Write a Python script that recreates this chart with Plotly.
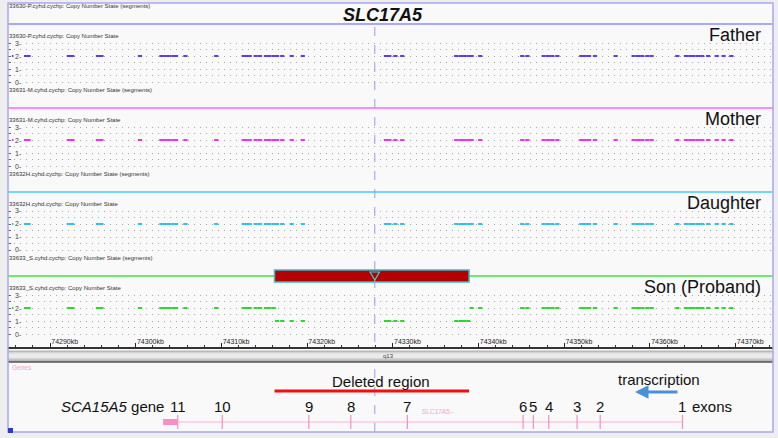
import plotly.graph_objects as go

W, H = 778, 438

# probe positions along chromosome (kb), shared by all four arrays
probe_kb = [
    74285.8, 74286.0, 74287.2, 74287.5, 74292.2, 74292.6, 74295.6, 74296.0,
    74300.5, 74303.0, 74303.4, 74303.9, 74304.4, 74304.7, 74305.8, 74309.4,
    74312.6, 74313.0, 74313.3, 74314.0, 74314.5, 74315.2, 74315.6, 74316.1,
    74316.5, 74317.1, 74318.2, 74319.5, 74329.2, 74329.6, 74330.3, 74331.1,
    74337.4, 74337.9, 74338.3, 74338.8, 74339.2, 74340.2, 74345.1, 74345.7,
    74347.6, 74348.1, 74348.6, 74349.2, 74352.0, 74352.4, 74352.9, 74353.6,
    74356.0, 74358.1, 74358.6, 74359.1, 74359.7, 74360.2, 74363.2, 74364.2,
    74364.7, 74365.1, 74365.6, 74366.1, 74366.8, 74367.8, 74368.6, 74369.5,
]

father_cn = [2, 2, 2, 2, 2, 2, 2, 2, 2, 2, 2, 2, 2, 2, 2, 2,
             2, 2, 2, 2, 2, 2, 2, 2, 2, 2, 2, 2, 2, 2, 2, 2,
             2, 2, 2, 2, 2, 2, 2, 2, 2, 2, 2, 2, 2, 2, 2, 2,
             2, 2, 2, 2, 2, 2, 2, 2, 2, 2, 2, 2, 2, 2, 2, 2]
mother_cn = [2, 2, 2, 2, 2, 2, 2, 2, 2, 2, 2, 2, 2, 2, 2, 2,
             2, 2, 2, 2, 2, 2, 2, 2, 2, 2, 2, 2, 2, 2, 2, 2,
             2, 2, 2, 2, 2, 2, 2, 2, 2, 2, 2, 2, 2, 2, 2, 2,
             2, 2, 2, 2, 2, 2, 2, 2, 2, 2, 2, 2, 2, 2, 2, 2]
daughter_cn = [2, 2, 2, 2, 2, 2, 2, 2, 2, 2, 2, 2, 2, 2, 2, 2,
               2, 2, 2, 2, 2, 2, 2, 2, 2, 2, 2, 2, 2, 2, 2, 2,
               2, 2, 2, 2, 2, 2, 2, 2, 2, 2, 2, 2, 2, 2, 2, 2,
               2, 2, 2, 2, 2, 2, 2, 2, 2, 2, 2, 2, 2, 2, 2, 2]
son_cn = [2, 2, 2, 2, 2, 2, 2, 2, 2, 2, 2, 2, 2, 2, 2, 2,
          2, 2, 2, 2, 2, 2, 2, 2, 1, 1, 1, 1, 1, 1, 1, 1,
          1, 1, 1, 1, 2, 2, 2, 2, 2, 2, 2, 2, 2, 2, 2, 2,
          2, 2, 2, 2, 2, 2, 2, 2, 2, 2, 2, 2, 2, 2, 2, 2]

cn_ticks = [0, 1, 2, 3]

# deleted segment in the proband (kb)
deletion = [74316.2, 74338.9]
cursor_kb = 74327.9

# SLC17A5 exons (kb), gene on minus strand
exon_kb = [74304.9, 74310.1, 74320.2, 74325.1, 74331.7, 74345.2,
           74346.4, 74348.2, 74351.5, 74354.2, 74363.8]
exon_labels = ["11", "10", "9", "8", "7", "6", "5", "4", "3", "2", "1"]
utr_start = 74303.2

tracks = [
    ("Father", "33630-P.cyhd.cychp", father_cn, "#5a3cf2", "#a8a8ff"),
    ("Mother", "33631-M.cyhd.cychp", mother_cn, "#f030f0", "#ff8cff"),
    ("Daughter", "33632H.cyhd.cychp", daughter_cn, "#30c0ee", "#6fd8ff"),
    ("Son (Proband)", "33633_S.cyhd.cychp", son_cn, "#2ed62e", "#6ee86e"),
]

FONT = "Liberation Sans, Arial, sans-serif"


def py(y):
    return 1 - y / H


def px(x):
    return x / W


x_range = [74290 - 42 / 8.57, 74290 + 723 / 8.57]

fig = go.Figure()
shapes = []
annotations = []

# background panel
shapes.append(dict(type="rect", xref="paper", yref="paper", x0=px(8), x1=px(773),
                   y0=py(432), y1=py(3), fillcolor="#f9f9f9", line=dict(width=0), layer="below"))

layout_axes = {}
for i, (name, fname, cn, dot_col, seg_col) in enumerate(tracks):
    top = 84 * i
    ax_id = "y" if i == 0 else f"y{i + 1}"
    key = "yaxis" if i == 0 else f"yaxis{i + 1}"
    layout_axes[key] = dict(
        domain=[py(83.3 + top), py(41.7 + top)], range=[-0.1, 3.1], anchor="x",
        tickmode="array", tickvals=[0, 0.5, 1, 1.5, 2, 2.5, 3],
        ticks="inside", ticklen=3, tickcolor="#666", showticklabels=False,
        showgrid=True, gridcolor="#a8a8a8", griddash="1px,5px", gridwidth=1,
        zeroline=False, showline=False, fixedrange=True,
    )
    fig.add_trace(go.Scatter(
        x=probe_kb, y=cn, xaxis="x", yaxis=ax_id, mode="markers",
        marker=dict(symbol="line-ew", size=3, line=dict(width=2, color=dot_col)),
        showlegend=False, hoverinfo="skip",
    ))
    for v in cn_ticks:
        annotations.append(dict(text=f"{v}-", x=px(13), y=v, xref="paper", yref=ax_id,
                                xanchor="left", yanchor="middle", showarrow=False,
                                bgcolor="#f9f9f9",
                                font=dict(size=7, color="#444", family=FONT)))
    # segment track line
    shapes.append(dict(type="line", xref="paper", yref="paper", x0=px(8), x1=px(773),
                       y0=py(24 + top), y1=py(24 + top), line=dict(color=seg_col, width=2)))
    annotations.append(dict(text=fname + ": Copy Number State (segments)", x=px(7), y=py(6 + top),
                            xref="paper", yref="paper", xanchor="left", yanchor="middle",
                            showarrow=False, font=dict(size=6, color="#333", family=FONT)))
    annotations.append(dict(text=fname + ": Copy Number State", x=px(7), y=py(36 + top),
                            xref="paper", yref="paper", xanchor="left", yanchor="middle",
                            showarrow=False, font=dict(size=6, color="#333", family=FONT)))
    annotations.append(dict(text=name, x=px(763), y=py(35 + top), xref="paper", yref="paper",
                            xanchor="right", yanchor="middle", showarrow=False,
                            font=dict(size=18, color="#111", family=FONT)))

# deleted segment box in proband segments track
shapes.append(dict(type="rect", xref="x", yref="paper", x0=deletion[0], x1=deletion[1],
                   y0=py(282), y1=py(270), fillcolor="#b30000",
                   line=dict(color="#3fb8c8", width=1.5)))
shapes.append(dict(type="path", xref="x", yref="paper",
                   path=f"M {cursor_kb - 0.55} {py(272)} L {cursor_kb + 0.55} {py(272)} "
                        f"L {cursor_kb} {py(280)} Z",
                   line=dict(color="#40c8d8", width=1.2)))

# cursor line
shapes.append(dict(type="line", xref="x", yref="paper", x0=cursor_kb, x1=cursor_kb,
                   y0=py(432), y1=py(24), line=dict(color="#9c9cec", width=1, dash="dash")))

# chromosome band under ruler
shapes.append(dict(type="rect", xref="paper", yref="paper", x0=px(8), x1=px(773),
                   y0=py(362), y1=py(350.5), fillcolor="#b8b8b8", line=dict(width=0)))
shapes.append(dict(type="rect", xref="paper", yref="paper", x0=px(8), x1=px(773),
                   y0=py(359.5), y1=py(352), fillcolor="#d4d4d4", line=dict(width=0)))
shapes.append(dict(type="rect", xref="paper", yref="paper", x0=px(8), x1=px(773),
                   y0=py(358), y1=py(353.5), fillcolor="#ebebeb", line=dict(width=0)))
shapes.append(dict(type="line", xref="paper", yref="paper", x0=px(8), x1=px(773),
                   y0=py(362), y1=py(362), line=dict(color="#555", width=1.5)))

# deleted region bar in gene panel
shapes.append(dict(type="line", xref="x", yref="paper", x0=deletion[0], x1=deletion[1],
                   y0=py(391), y1=py(391), line=dict(color="#f01010", width=3)))

# outer border and corner marker
shapes.append(dict(type="rect", xref="paper", yref="paper", x0=px(8), x1=px(773),
                   y0=py(432), y1=py(3), line=dict(color="#a8a8f0", width=1.5)))
shapes.append(dict(type="rect", xref="paper", yref="paper", x0=px(8), x1=px(13),
                   y0=py(433), y1=py(428), fillcolor="#2a3fc0", line=dict(width=0)))

# gene model
fig.add_trace(go.Scatter(x=[exon_kb[0], exon_kb[-1]], y=[0, 0], xaxis="x", yaxis="y5",
                         mode="lines", line=dict(color="#ffb3d3", width=1),
                         showlegend=False, hoverinfo="skip"))
fig.add_trace(go.Scatter(x=[utr_start, exon_kb[0]], y=[0, 0], xaxis="x", yaxis="y5",
                         mode="lines", line=dict(color="#f590c2", width=6),
                         showlegend=False, hoverinfo="skip"))
fig.add_trace(go.Scatter(x=exon_kb, y=[0] * len(exon_kb), xaxis="x", yaxis="y5",
                         mode="markers",
                         marker=dict(symbol="line-ns", size=10, line=dict(width=1.2, color="#f590c2")),
                         showlegend=False, hoverinfo="skip"))

for kb, lab in zip(exon_kb, exon_labels):
    annotations.append(dict(text=lab, x=kb, y=py(406), xref="x", yref="paper",
                            xanchor="center", yanchor="middle", showarrow=False,
                            font=dict(size=15, color="#111", family=FONT)))
annotations += [
    dict(text="exons", x=px(690), y=py(406), xref="paper", yref="paper", xanchor="left",
         yanchor="middle", showarrow=False, font=dict(size=15, color="#111", family=FONT)),
    dict(text="<i>SCA15A5</i> gene", x=px(166), y=py(406), xref="paper", yref="paper",
         xanchor="right", yanchor="middle", showarrow=False,
         font=dict(size=15, color="#111", family=FONT)),
    dict(text="Deleted region", x=px(381), y=py(381), xref="paper", yref="paper",
         xanchor="center", yanchor="middle", showarrow=False,
         font=dict(size=15, color="#111", family=FONT)),
    dict(text="transcription", x=px(659), y=py(379), xref="paper", yref="paper",
         xanchor="center", yanchor="middle", showarrow=False,
         font=dict(size=15, color="#111", family=FONT)),
    dict(text="", x=px(635), y=py(392), xref="paper", yref="paper", ax=44, ay=0,
         showarrow=True, arrowhead=2, arrowsize=0.9, arrowwidth=3, arrowcolor="#4a90d9"),
    dict(text="SLC17A5\u2190", x=px(420), y=py(411), xref="paper", yref="paper",
         xanchor="left", yanchor="middle", showarrow=False,
         font=dict(size=6.5, color="#ff9ccc", family=FONT)),
    dict(text="Genes", x=px(10), y=py(367), xref="paper", yref="paper", xanchor="left",
         yanchor="middle", showarrow=False, font=dict(size=6.5, color="#ff9ccc", family=FONT)),
    dict(text="q13", x=px(388), y=py(356), xref="paper", yref="paper", xanchor="center",
         yanchor="middle", showarrow=False, font=dict(size=6, color="#444", family=FONT)),
    dict(text="<b><i>SLC17A5</i></b>", x=px(383), y=py(15), xref="paper", yref="paper",
         xanchor="center", yanchor="middle", showarrow=False,
         font=dict(size=18, color="#111", family=FONT)),
]

fig.update_layout(
    width=W, height=H, margin=dict(l=0, r=0, t=0, b=0),
    paper_bgcolor="#eeeeee", plot_bgcolor="rgba(0,0,0,0)",
    showlegend=False,
    xaxis=dict(
        domain=[px(8), px(773)], range=x_range, anchor="free", position=py(348), side="top",
        tickmode="linear", tick0=74290, dtick=10, tickformat="d", ticksuffix="kb",
        ticks="outside", ticklen=4, tickcolor="#222", ticklabelposition="outside right",
        tickfont=dict(size=7, color="#222", family=FONT),
        minor=dict(tick0=74290, dtick=2, ticks="outside", ticklen=2, tickcolor="#333"),
        showline=True, linecolor="#333", linewidth=1.5,
        showgrid=False, zeroline=False, fixedrange=True,
    ),
    yaxis5=dict(domain=[py(432), py(412)], range=[-1, 1], anchor="x", visible=False,
                fixedrange=True),
    shapes=shapes,
    annotations=annotations,
    **layout_axes,
)

fig.write_html("out.html", config={"displayModeBar": False},
               post_script="document.body.style.margin='0';document.body.style.overflow='hidden';")
